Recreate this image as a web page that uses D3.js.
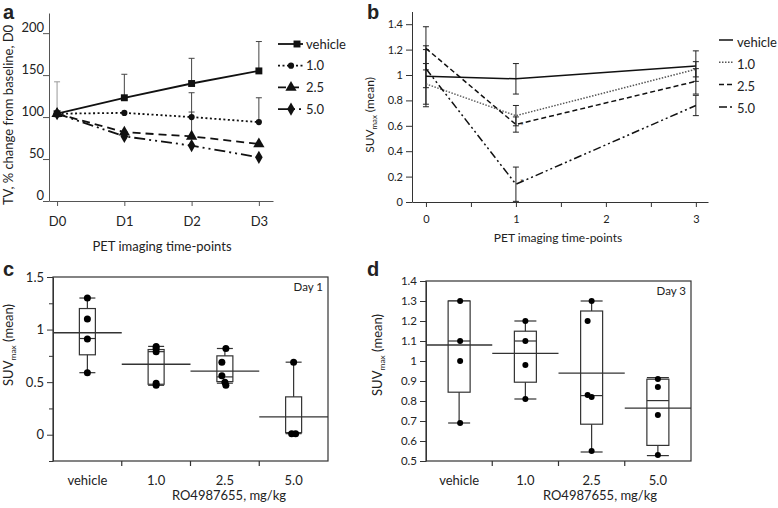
<!DOCTYPE html>
<html>
<head>
<meta charset="utf-8">
<script src="https://cdn.jsdelivr.net/npm/d3@7"></script>
<style>
body { margin: 0; background: #fff; }
text { font-family: Lato, "Open Sans", sans-serif; fill: #222; }
.domain, .tick line { stroke: #333; }
</style>
</head>
<body>
<div id="chart"></div>
<script>
// ---- panel a : tumour volume
var daysA = ['D0', 'D1', 'D2', 'D3'];
var seriesNames = ['vehicle', '1.0', '2.5', '5.0'];
var tvVehicle = [104, 123, 140, 155];
var tv10 = [104, 105, 100, 94];
var tv25 = [104, 82, 77, 68];
var tv50 = [104, 77, 66, 52];
var tvErrVehicle = [38, 28, 30, 35];
var tvErr10 = [0, 0, 29, 29];
var tvErr25 = [0, 0, 29, 0];
var tvErr50 = [0, 0, 0, 0];

// ---- panel b : SUVmax over time
var timesB = [0, 1, 3];
var suvVehicle = [0.99, 0.97, 1.07];
var suv10 = [0.93, 0.68, 1.045];
var suv25 = [1.21, 0.61, 0.95];
var suv50 = [1.05, 0.14, 0.76];
var suvErrVehicle = [0.24, 0.12, 0.12];
var suvErr10 = [0.16, 0.08, 0.06];
var suvErr25 = [0.17, 0.06, 0.10];
var suvErr50 = [0.15, 0.135, 0.08];

// ---- panels c, d : box plots per dose
var groups = ['vehicle', '1.0', '2.5', '5.0'];
var day1Points = [[1.30, 1.10, 0.91, 0.59], [0.84, 0.82, 0.79, 0.49, 0.47], [0.82, 0.69, 0.56, 0.50, 0.47], [0.69, 0.01, 0.01]];
var day1Jitter = [[0, 0, 0, 0], [0, 0, 0, 0, 0], [1, -3, -3, 0, 1], [0, -2, 2]];
var day1Lo = [0.59, 0.47, 0.49, 0.01];
var day1Q1 = [0.76, 0.48, 0.505, 0.02];
var day1Median = [0.915, 0.79, 0.55, 0.02];
var day1Q3 = [1.20, 0.81, 0.75, 0.36];
var day1Hi = [1.30, 0.84, 0.82, 0.69];
var day1Mean = [0.97, 0.67, 0.605, 0.17];

var day3Points = [[1.30, 1.10, 1.00, 0.69], [1.20, 1.10, 0.98, 0.81], [1.30, 1.20, 0.83, 0.82, 0.55], [0.91, 0.87, 0.73, 0.53]];
var day3Jitter = [[1, 1, 1, 1], [0, 0, 0, 0], [0, -4, -4, 0, 0], [0, 0, 0, 0]];
var day3Lo = [0.69, 0.81, 0.545, 0.527];
var day3Q1 = [0.844, 0.894, 0.684, 0.578];
var day3Median = [1.10, 1.10, 0.827, 0.802];
var day3Q3 = [1.30, 1.149, 1.25, 0.909];
var day3Hi = [1.30, 1.20, 1.30, 0.917];
var day3Mean = [1.08, 1.038, 0.939, 0.764];

var svg = d3.select('#chart').append('svg')
	.attr('width', 778)
	.attr('height', 508);

function panelLetter(txt, x, y){
	svg.append('text').attr('x', x).attr('y', y)
		.style('font-family', 'Arial, "Liberation Sans", sans-serif')
		.style('font-weight', 'bold').style('font-size', '20px')
		.text(txt);
}

function suvLabel(x, y, size){
	var t = svg.append('text')
		.attr('transform', 'translate(' + x + ',' + y + ') rotate(-90)')
		.attr('text-anchor', 'middle')
		.style('font-size', size + 'px');
	t.append('tspan').text('SUV');
	t.append('tspan').attr('dy', '0.35em').style('font-size', (size * 0.65) + 'px').text('max');
	t.append('tspan').attr('dy', '-0.25em').text(' (mean)');
}

// ================= panel a =================
var xA = d3.scaleLinear().domain([-0.12, 3.21]).range([49, 273]);
var yA = d3.scaleLinear().domain([0, 224]).range([201, 13]);
var dashA = [null, '2,2.5', '8,5', '11,4,2,4,2,4'];
var symA = [d3.symbolSquare, d3.symbolCircle, d3.symbolTriangle, d3.symbolDiamond];
var sizeA = [48, 30, 55, 50];
var tvData = [tvVehicle, tv10, tv25, tv50];
var tvErr = [tvErrVehicle, tvErr10, tvErr25, tvErr50];

var gA = svg.append('g');
gA.append('g').attr('transform', 'translate(49,0)')
	.call(d3.axisLeft(yA).tickValues([0, 50, 100, 150, 200]).tickSize(6).tickSizeOuter(0))
	.call(g => g.selectAll('text').attr('x', -5).attr('dy', '-0.15em').style('font-size', '13px'))
	.call(g => g.selectAll('.domain, line').style('stroke', '#555'));
gA.append('g').attr('transform', 'translate(0,201)')
	.call(d3.axisBottom(xA).tickValues([0, 1, 2, 3]).tickFormat((d, i) => daysA[i]).tickSize(5).tickSizeOuter(0))
	.call(g => g.selectAll('text').attr('dy', '1.3em').style('font-size', '13px'))
	.call(g => g.selectAll('.domain, line').style('stroke', '#555'));

// upward error bars
tvData.forEach(function(vals, s){
	vals.forEach(function(v, i){
		var e = tvErr[s][i];
		if(e <= 0) return;
		var col = (i == 0) ? '#999' : '#444';
		gA.append('line').attr('x1', xA(i)).attr('x2', xA(i))
			.attr('y1', yA(v)).attr('y2', yA(v + e))
			.style('stroke', col).style('stroke-width', 1);
		gA.append('line').attr('x1', xA(i) - 3).attr('x2', xA(i) + 3)
			.attr('y1', yA(v + e)).attr('y2', yA(v + e))
			.style('stroke', col).style('stroke-width', 1);
	});
});

var lineA = d3.line().x((d, i) => xA(i)).y(d => yA(d));
tvData.forEach(function(vals, s){
	gA.append('path').datum(vals)
		.attr('d', lineA)
		.style('fill', 'none').style('stroke', '#111').style('stroke-width', 1.8)
		.style('stroke-dasharray', dashA[s]);
	gA.selectAll('.m' + s).data(vals).enter().append('path')
		.attr('transform', (d, i) => 'translate(' + xA(i) + ',' + yA(d) + ')')
		.attr('d', d3.symbol().type(symA[s]).size(sizeA[s]))
		.style('fill', '#111');
});

// legend a
seriesNames.forEach(function(name, s){
	var y = 44 + s * 21.7;
	gA.append('line').attr('x1', 278).attr('x2', 303).attr('y1', y).attr('y2', y)
		.style('stroke', '#111').style('stroke-width', 1.8).style('stroke-dasharray', dashA[s]);
	gA.append('path').attr('transform', 'translate(' + (s == 0 ? 297 : 291) + ',' + y + ')')
		.attr('d', d3.symbol().type(symA[s]).size(sizeA[s])).style('fill', '#111');
	gA.append('text').attr('x', 306).attr('y', y).attr('dy', '0.35em')
		.style('font-size', '13px').text(name);
});
gA.append('text').attr('x', 162).attr('y', 251).attr('text-anchor', 'middle')
	.style('font-size', '13px').text('PET imaging time-points');
gA.append('text').attr('transform', 'translate(13,115) rotate(-90)')
	.attr('text-anchor', 'middle').style('font-size', '13px')
	.text('TV, % change from baseline, D0');
panelLetter('a', 3, 19);

// ================= panel b =================
var xB = d3.scaleLinear().domain([-0.155, 3.135]).range([412, 708]);
var yB = d3.scaleLinear().domain([0, 1.5]).range([202, 11.5]);
var dashB = [null, '1.5,1.5', '5,3', '8,3,2,3,2,3'];
var colB = ['#111', '#555', '#111', '#111'];
var suvData = [suvVehicle, suv10, suv25, suv50];
var suvErr = [suvErrVehicle, suvErr10, suvErr25, suvErr50];

var gB = svg.append('g');
gB.append('g').attr('transform', 'translate(412,0)')
	.call(d3.axisLeft(yB).tickValues(d3.range(0, 1.41, 0.2)).tickFormat(d3.format('~g')).tickSize(6).tickSizeOuter(0))
	.call(g => g.selectAll('text').style('font-size', '11px'));
gB.append('g').attr('transform', 'translate(0,202)')
	.call(d3.axisBottom(xB).tickValues([0, 0.5, 1, 1.5, 2, 2.5, 3]).tickFormat(d => d % 1 == 0 ? d : '').tickSize(5).tickSizeOuter(0))
	.call(g => g.selectAll('text').attr('dy', '1.2em').style('font-size', '11px'));

suvData.forEach(function(vals, s){
	vals.forEach(function(v, i){
		var e = suvErr[s][i], x = xB(timesB[i]);
		gB.append('line').attr('x1', x).attr('x2', x)
			.attr('y1', yB(v - e)).attr('y2', yB(v + e))
			.style('stroke', '#222').style('stroke-width', 1);
		[v - e, v + e].forEach(function(c){
			gB.append('line').attr('x1', x - 3).attr('x2', x + 3)
				.attr('y1', yB(c)).attr('y2', yB(c))
				.style('stroke', '#222').style('stroke-width', 1);
		});
	});
});
var lineB = d3.line().x((d, i) => xB(timesB[i])).y(d => yB(d));
suvData.forEach(function(vals, s){
	gB.append('path').datum(vals).attr('d', lineB)
		.style('fill', 'none').style('stroke', colB[s]).style('stroke-width', 1.5)
		.style('stroke-dasharray', dashB[s]);
});
gB.append('text').attr('x', xB(1) + 4).attr('y', yB(0.61) + 4).style('font-size', '9px').text('*');
gB.append('text').attr('x', xB(1) + 4).attr('y', yB(0.14) + 2).style('font-size', '9px').text('*');

seriesNames.forEach(function(name, s){
	var y = 42 + s * 22.3;
	gB.append('line').attr('x1', 719).attr('x2', 733).attr('y1', y - 2).attr('y2', y - 2)
		.style('stroke', colB[s]).style('stroke-width', 1.5).style('stroke-dasharray', dashB[s]);
	gB.append('text').attr('x', 737).attr('y', y).attr('dy', '0.35em')
		.style('font-size', '13px').text(name);
});
gB.append('text').attr('x', 558).attr('y', 242).attr('text-anchor', 'middle')
	.style('font-size', '12px').text('PET imaging time-points');
suvLabel(374, 115, 12);
panelLetter('b', 367, 19);

// ================= box plot panels =================
function boxPanel(opt){
	var g = svg.append('g');
	var x = d3.scaleBand().domain(groups).range([opt.left, opt.right]);
	var y = d3.scaleLinear().domain(opt.domain).range([opt.bottom, opt.top]);
	var stroke = '#333';

	// frame
	g.append('rect').attr('x', opt.left).attr('y', y(opt.domain[1]))
		.attr('width', opt.right - opt.left).attr('height', opt.bottom - y(opt.domain[1]))
		.style('fill', 'none').style('stroke', stroke).style('stroke-width', 1.2);
	g.append('g').attr('transform', 'translate(' + opt.left + ',0)')
		.call(d3.axisLeft(y).tickValues(opt.ticks).tickFormat(d3.format('~g')).tickSize(6).tickSizeOuter(0))
		.call(a => a.selectAll('text').style('font-size', opt.tickFont + 'px'));
	if(opt.minor){
		g.append('g').attr('transform', 'translate(' + opt.left + ',0)')
			.call(d3.axisLeft(y).tickValues(opt.minor).tickFormat('').tickSize(4).tickSizeOuter(0))
			.call(a => a.select('.domain').remove());
	}
	// category separators + labels
	g.append('g').attr('transform', 'translate(0,' + opt.bottom + ')')
		.call(d3.axisBottom(x).tickSize(0).tickSizeOuter(0))
		.call(a => a.select('.domain').remove())
		.call(a => a.selectAll('text').attr('dy', '1.6em').style('font-size', '13px'));
	groups.slice(1).forEach(function(gr){
		g.append('line').attr('x1', x(gr)).attr('x2', x(gr))
			.attr('y1', opt.bottom).attr('y2', opt.bottom + 5)
			.style('stroke', stroke).style('stroke-width', 1.2);
	});

	groups.forEach(function(gr, i){
		var cx = x(gr) + x.bandwidth() / 2, hw = opt.boxW / 2;
		// whiskers
		g.append('line').attr('x1', cx).attr('x2', cx)
			.attr('y1', y(opt.lo[i])).attr('y2', y(opt.hi[i]))
			.style('stroke', stroke).style('stroke-width', 1.2);
		[opt.lo[i], opt.hi[i]].forEach(function(c){
			g.append('line').attr('x1', cx - hw).attr('x2', cx + hw)
				.attr('y1', y(c)).attr('y2', y(c))
				.style('stroke', stroke).style('stroke-width', 1.2);
		});
		g.append('rect').attr('x', cx - hw).attr('width', opt.boxW)
			.attr('y', y(opt.q3[i])).attr('height', y(opt.q1[i]) - y(opt.q3[i]))
			.style('fill', '#fff').style('stroke', stroke).style('stroke-width', 1.2);
		g.append('line').attr('x1', cx - hw).attr('x2', cx + hw)
			.attr('y1', y(opt.median[i])).attr('y2', y(opt.median[i]))
			.style('stroke', stroke).style('stroke-width', 1.2);
		// mean across the whole band
		g.append('line').attr('x1', x(gr)).attr('x2', x(gr) + x.bandwidth())
			.attr('y1', y(opt.mean[i])).attr('y2', y(opt.mean[i]))
			.style('stroke', stroke).style('stroke-width', 1.3);
		g.selectAll('.p' + i).data(opt.points[i]).enter().append('circle')
			.attr('cx', (d, j) => cx + opt.jitter[i][j])
			.attr('cy', d => y(d))
			.attr('r', opt.r)
			.style('fill', '#000');
	});
	g.append('text').attr('x', opt.right - 5).attr('y', y(opt.domain[1]) + 14)
		.attr('text-anchor', 'end').style('font-size', '11.5px').text(opt.day);
	g.append('text').attr('x', opt.xTitle).attr('y', 500).attr('text-anchor', 'middle')
		.style('font-size', '13px').text('RO4987655, mg/kg');
}

boxPanel({
	left: 53, right: 328, top: 277, bottom: 461, domain: [-0.25, 1.5],
	ticks: [0, 0.5, 1, 1.5], minor: [-0.25, 0.25, 0.75, 1.25], tickFont: 13,
	boxW: 16, r: 3.5, day: 'Day 1', xTitle: 229,
	points: day1Points, jitter: day1Jitter, lo: day1Lo, q1: day1Q1, median: day1Median,
	q3: day1Q3, hi: day1Hi, mean: day1Mean
});
suvLabel(13, 345, 13);
panelLetter('c', 3, 276);

boxPanel({
	left: 426, right: 691, top: 281, bottom: 461, domain: [0.5, 1.4],
	ticks: d3.range(0.5, 1.41, 0.1).map(d => +d.toFixed(1)), minor: null, tickFont: 11.5,
	boxW: 22, r: 3, day: 'Day 3', xTitle: 600,
	points: day3Points, jitter: day3Jitter, lo: day3Lo, q1: day3Q1, median: day3Median,
	q3: day3Q3, hi: day3Hi, mean: day3Mean
});
suvLabel(382, 355, 13);
panelLetter('d', 367, 276);
</script>
</body>
</html>
